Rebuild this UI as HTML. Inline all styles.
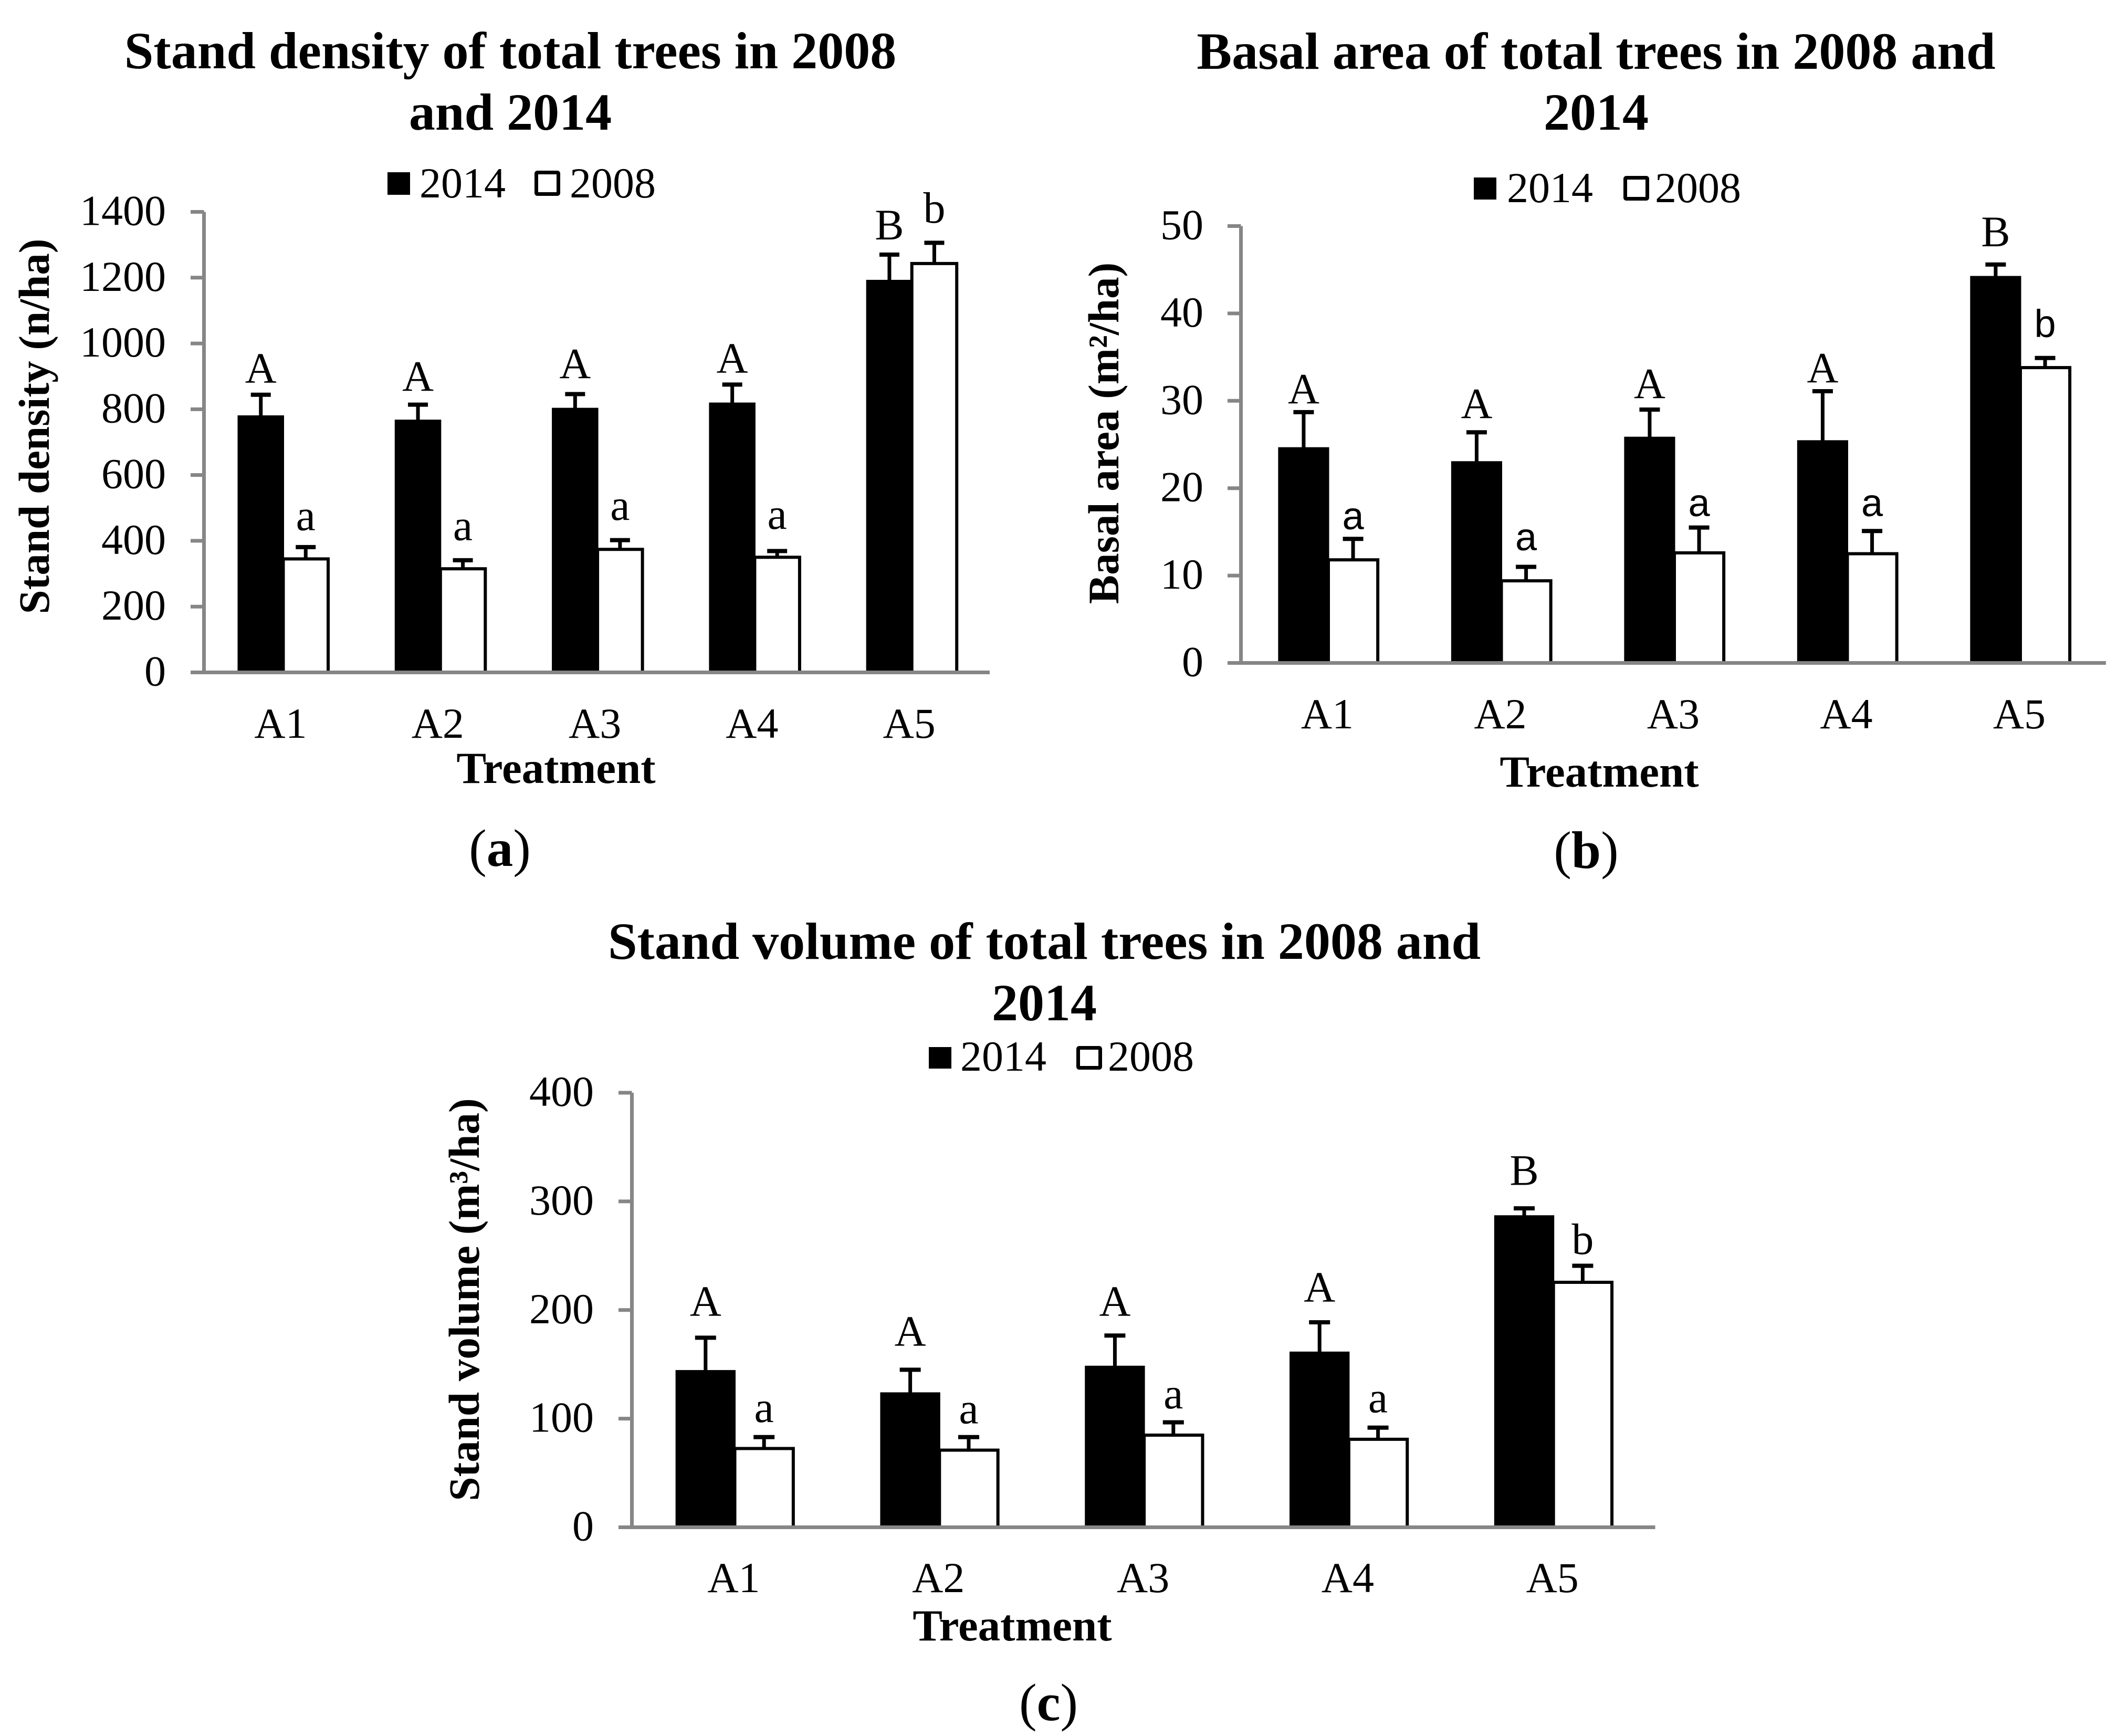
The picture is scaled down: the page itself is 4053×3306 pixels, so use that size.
<!DOCTYPE html>
<html lang="en">
<head>
<meta charset="utf-8">
<title>Stand density, basal area and stand volume of total trees</title>
<style>
html,body{margin:0;padding:0;background:#fff;}
svg{display:block;}
text{font-family:"Liberation Serif",serif;fill:#000;}
.title{font-size:100px;font-weight:bold;text-anchor:middle;}
.axis-title{font-size:83px;font-weight:bold;text-anchor:middle;}
.x-title{font-size:85px;font-weight:bold;text-anchor:middle;}
.tick{font-size:82px;}
.legend-text{font-size:82px;}
.panel{font-size:101px;text-anchor:middle;}
</style>
</head>
<body>
<svg id="figure" xmlns="http://www.w3.org/2000/svg" width="4053" height="3306" viewBox="0 0 4053 3306">
  <rect x="0" y="0" width="4053" height="3306" fill="#fff"/>

  <g id="chart-a">
    <text class="title" x="972" y="130">Stand density of total trees in 2008</text>
    <text class="title" x="972" y="247">and 2014</text>
    <rect x="738" y="328" width="43" height="43" fill="#000"/>
    <text class="legend-text" x="799" y="376">2014</text>
    <rect x="1021.5" y="328.5" width="42" height="41" rx="2" fill="#fff" stroke="#000" stroke-width="7"/>
    <text class="legend-text" x="1085" y="376">2008</text>
    <text class="axis-title" transform="translate(93 812) rotate(-90)">Stand density (n/ha)</text>
    <text class="x-title" x="1059" y="1491">Treatment</text>
    <text class="panel" x="952" y="1649">(<tspan font-weight="bold">a</tspan>)</text>
  </g>

  <g id="chart-b">
    <text class="title" x="3040" y="131">Basal area of total trees in 2008 and</text>
    <text class="title" x="3040" y="247">2014</text>
    <rect x="2807" y="338" width="43" height="42" fill="#000"/>
    <text class="legend-text" x="2870" y="385">2014</text>
    <rect x="3095.5" y="338.5" width="42" height="40" rx="2" fill="#fff" stroke="#000" stroke-width="7"/>
    <text class="legend-text" x="3152" y="385">2008</text>
    <text class="axis-title" transform="translate(2130 825) rotate(-90)">Basal area (m²/ha)</text>
    <text class="x-title" x="3046" y="1498">Treatment</text>
    <text class="panel" x="3021" y="1653">(<tspan font-weight="bold">b</tspan>)</text>
  </g>

  <g id="chart-c">
    <text class="title" x="1989" y="1826">Stand volume of total trees in 2008 and</text>
    <text class="title" x="1989" y="1943">2014</text>
    <rect x="1769" y="1994" width="43" height="41" fill="#000"/>
    <text class="legend-text" x="1829" y="2039">2014</text>
    <rect x="2053.5" y="1995.5" width="42" height="38" rx="2" fill="#fff" stroke="#000" stroke-width="7"/>
    <text class="legend-text" x="2110" y="2039">2008</text>
    <text class="axis-title" transform="translate(912 2475) rotate(-90)">Stand volume (m³/ha)</text>
    <text class="x-title" x="1928" y="3124">Treatment</text>
    <text class="panel" x="1997" y="3276">(<tspan font-weight="bold">c</tspan>)</text>
  </g>
</svg>

<script>
// Shared categories
const categories = ['A1', 'A2', 'A3', 'A4', 'A5'];

// Chart (a): stand density
const densityTicks = [0, 200, 400, 600, 800, 1000, 1200, 1400];
const density2014 = [779, 766, 802, 818, 1191];
const density2014ErrTop = [844, 814, 846, 875, 1270];
const density2008 = [345, 315, 374, 350, 1243];
const density2008ErrTop = [381, 341, 402, 369, 1306];
const densityUpperLetters = ['A', 'A', 'A', 'A', 'B'];
const densityLowerLetters = ['a', 'a', 'a', 'a', 'b'];
const densityUpperLift = [36, 42, 48, 36, 46];
const densityLowerLift = [52, 61, 62, 68, 61];

// Chart (b): basal area
const basalTicks = [0, 10, 20, 30, 40, 50];
const basal2014 = [24.6, 23.0, 25.8, 25.4, 44.2];
const basal2014ErrTop = [28.7, 26.4, 29.0, 31.1, 45.6];
const basal2008 = [11.8, 9.4, 12.6, 12.5, 33.8];
const basal2008ErrTop = [14.2, 11.0, 15.5, 15.1, 34.9];
const basalUpperLetters = ['A', 'A', 'A', 'A', 'B'];
const basalLowerLetters = ['a', 'a', 'a', 'a', 'b'];
const basalUpperLift = [1.0, 1.6, 1.3, 1.0, 2.1];
const basalLowerLift = [1.1, 1.9, 1.3, 1.7, 2.4];

// Chart (c): stand volume
const volumeTicks = [0, 100, 200, 300, 400];
const volume2014 = [144, 123.5, 148, 161, 286.5];
const volume2014ErrTop = [174.5, 145, 176.5, 188.7, 293.6];
const volume2008 = [72.5, 71, 84.8, 81, 225.5];
const volume2008ErrTop = [83, 83, 96.6, 91.7, 240.7];
const volumeUpperLetters = ['A', 'A', 'A', 'A', 'B'];
const volumeLowerLetters = ['a', 'a', 'a', 'a', 'b'];
const volumeUpperLift = [20, 22, 18, 19, 21.5];
const volumeLowerLift = [14, 12.6, 12.8, 14.2, 10.8];

const SVG_NS = 'http://www.w3.org/2000/svg';
const AXIS_COLOR = '#868686';

function make(tag, parent, name, props) {
  const el = document.createElementNS(SVG_NS, tag);
  
  
  for (const k in props) el.setAttribute(k, props[k]);
  parent.appendChild(el);
  return el;
}

function drawChart(o) {
  const root = document.getElementById(o.id);
  const maxV = o.ticks[o.ticks.length - 1];
  const yScale = v => o.y0 - (v / maxV) * (o.y0 - o.yTop);
  const band = (o.xEnd - o.axisX) / categories.length;
  const xCenter = i => o.firstCenter + i * band;
  const barW = band / 3.5;

  const barsG = make('g', root, o.prefix + '-bars', {});

  categories.forEach((cat, i) => {
    const cx = xCenter(i);
    // error bars first, so they sit under the bar tops
    [[o.s2014, o.e2014, -1, '2014'], [o.s2008, o.e2008, 1, '2008']].forEach(s => {
      const bx = cx + s[2] * barW / 2;
      make('line', barsG, o.prefix + '-error-stem-' + s[3] + '-' + cat, {
        x1: bx, x2: bx, y1: yScale(s[0][i]), y2: yScale(s[1][i]), stroke: '#000', 'stroke-width': 7
      });
      make('line', barsG, o.prefix + '-error-cap-' + s[3] + '-' + cat, {
        x1: bx - o.cap / 2, x2: bx + o.cap / 2, y1: yScale(s[1][i]), y2: yScale(s[1][i]), stroke: '#000', 'stroke-width': 8
      });
    });
    make('rect', barsG, o.prefix + '-bar-2008-' + cat, {
      x: cx, y: yScale(o.s2008[i]), width: barW, height: o.y0 - yScale(o.s2008[i]),
      fill: '#fff', stroke: '#000', 'stroke-width': 6
    });
    make('rect', barsG, o.prefix + '-bar-2014-' + cat, {
      x: cx - barW, y: yScale(o.s2014[i]), width: barW, height: o.y0 - yScale(o.s2014[i]),
      fill: '#000', stroke: '#000', 'stroke-width': 3
    });
    // significance letters
    const up = make('text', root, o.prefix + '-letter-2014-' + cat, {
      x: cx - barW / 2, y: yScale(o.e2014[i] + o.upperLift[i]), 'font-size': 83, 'text-anchor': 'middle'
    });
    up.textContent = o.upperLetters[i];
    const low = make('text', root, o.prefix + '-letter-2008-' + cat, {
      x: cx + barW / 2, y: yScale(o.e2008[i] + o.lowerLift[i]), 'font-size': o.lowerSize, 'text-anchor': 'middle'
    });
    if (o.lowerSans) low.setAttribute('style', 'font-family:"Liberation Sans",sans-serif');
    low.textContent = o.lowerLetters[i];
    // category label
    const lab = make('text', root, o.prefix + '-x-tick-label-' + cat, {
      x: cx + o.xLabelShift, y: o.xLabelY, 'font-size': 82, 'text-anchor': 'middle'
    });
    lab.textContent = cat;
  });

  // axes drawn on top of bar bases
  make('line', root, o.prefix + '-y-axis', {
    x1: o.axisX, x2: o.axisX, y1: o.yTop, y2: o.y0, stroke: AXIS_COLOR, 'stroke-width': 7
  });
  make('line', root, o.prefix + '-x-axis', {
    x1: o.tickLeft, x2: o.xEnd, y1: o.y0, y2: o.y0, stroke: AXIS_COLOR, 'stroke-width': 7
  });
  o.ticks.forEach(t => {
    const y = yScale(t);
    make('line', root, o.prefix + '-y-tick-' + t, {
      x1: o.tickLeft, x2: o.axisX, y1: y, y2: y, stroke: AXIS_COLOR, 'stroke-width': 7
    });
    const lab = make('text', root, o.prefix + '-y-tick-label-' + t, {
      x: o.tickRight, y: y + 25, 'text-anchor': 'end', class: 'tick'
    });
    lab.textContent = t;
  });
}

drawChart({
  id: 'chart-a', prefix: 'chart-a', ticks: densityTicks,
  s2014: density2014, e2014: density2014ErrTop, s2008: density2008, e2008: density2008ErrTop,
  upperLetters: densityUpperLetters, lowerLetters: densityLowerLetters,
  upperLift: densityUpperLift, lowerLift: densityLowerLift,
  axisX: 388.5, xEnd: 1885, firstCenter: 539.5, y0: 1280.5, yTop: 403.5,
  tickLeft: 363, tickRight: 316, xLabelY: 1405, xLabelShift: -5, cap: 38, lowerSize: 84, lowerSans: false
});
drawChart({
  id: 'chart-b', prefix: 'chart-b', ticks: basalTicks,
  s2014: basal2014, e2014: basal2014ErrTop, s2008: basal2008, e2008: basal2008ErrTop,
  upperLetters: basalUpperLetters, lowerLetters: basalLowerLetters,
  upperLift: basalUpperLift, lowerLift: basalLowerLift,
  axisX: 2363.5, xEnd: 4011, firstCenter: 2530, y0: 1262.5, yTop: 430.5,
  tickLeft: 2338, tickRight: 2292, xLabelY: 1387, xLabelShift: -2, cap: 39, lowerSize: 74, lowerSans: true
});
drawChart({
  id: 'chart-c', prefix: 'chart-c', ticks: volumeTicks,
  s2014: volume2014, e2014: volume2014ErrTop, s2008: volume2008, e2008: volume2008ErrTop,
  upperLetters: volumeUpperLetters, lowerLetters: volumeLowerLetters,
  upperLift: volumeUpperLift, lowerLift: volumeLowerLift,
  axisX: 1203.5, xEnd: 3152.5, firstCenter: 1399.5, y0: 2908.5, yTop: 2081,
  tickLeft: 1178, tickRight: 1131, xLabelY: 3032, xLabelShift: -2, cap: 40, lowerSize: 84, lowerSans: false
});
</script>
</body>
</html>
